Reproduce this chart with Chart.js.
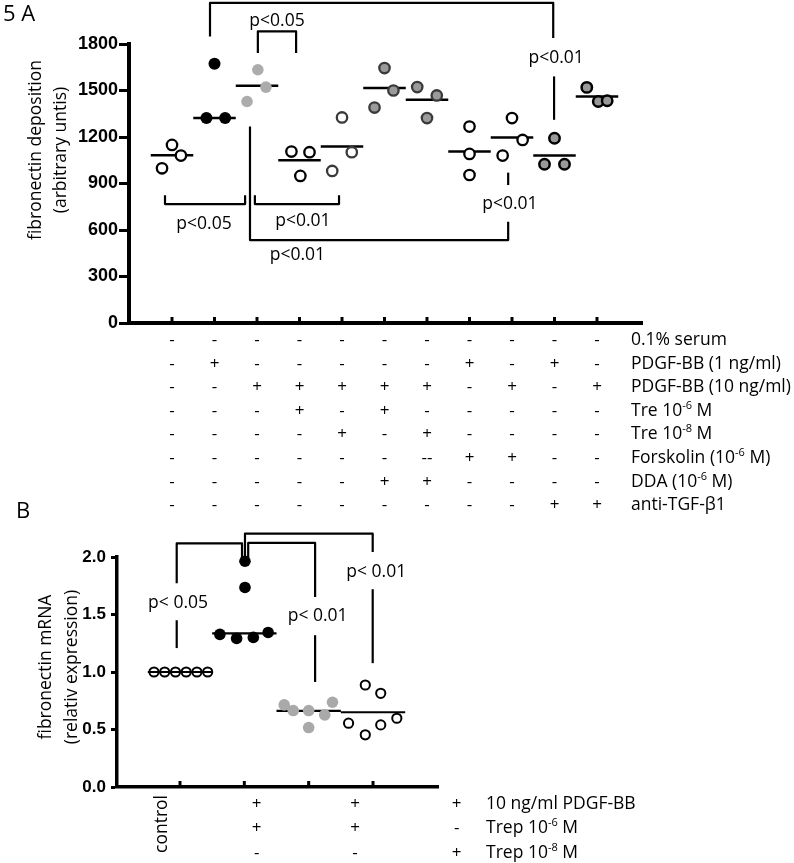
<!DOCTYPE html>
<html>
<head>
<meta charset="utf-8">
<title>Figure 5 – fibronectin</title>
<script src="https://cdn.jsdelivr.net/npm/chart.js@4.4.1/dist/chart.umd.min.js"></script>
<style>
  html, body { margin: 0; padding: 0; background: #fff; }
  #fig { position: relative; width: 794px; height: 863px; overflow: hidden; }
  canvas { position: absolute; left: 0; display: block; }
  #panelA { top: 0; }
  #panelB { top: 500px; }
</style>
</head>
<body>
<div id="fig">
  <canvas id="panelA" width="794" height="520"></canvas>
  <canvas id="panelB" width="794" height="363"></canvas>
</div>
<script>
/* ================================================================
   Fig. 5 — fibronectin deposition (A) and mRNA (B), scatter + median
   ================================================================ */

/* ── DATA: panel A ─────────────────────────────────────────────── */
const conditionsA = ['serum', 'PDGF 1', 'PDGF 10', 'PDGF 10 + Tre-6', 'PDGF 10 + Tre-8',
  'PDGF 10 + Tre-6 + DDA', 'PDGF 10 + Tre-8 + DDA', 'PDGF 1 + Fsk', 'PDGF 10 + Fsk',
  'PDGF 1 + anti-TGF', 'PDGF 10 + anti-TGF'];
const valuesA = [
  [998, 1149, 1080],
  [1673, 1322, 1322],
  [1429, 1634, 1522],
  [1106, 1102, 949],
  [981, 1102, 1326],
  [1390, 1645, 1500],
  [1522, 1468, 1322],
  [1267, 1091, 955],
  [1322, 1181, 1080],
  [1192, 1024, 1024],
  [1520, 1429, 1434]
];
// horizontal spread of the replicates inside a column (x-axis units)
const spreadA = [
  [-0.235, 0, 0.21],
  [0, -0.19, 0.25],
  [-0.235, 0.02, 0.21],
  [-0.19, 0.235, 0.02],
  [-0.23, 0.23, 0],
  [-0.235, 0, 0.21],
  [-0.23, 0.23, 0],
  [0, 0, 0],
  [0, 0.25, -0.22],
  [0, -0.235, 0.235],
  [-0.24, 0.03, 0.24]
];
const medianA = [1083, 1322, 1530, 1050, 1138, 1516, 1440, 1106, 1196, 1080, 1461];
const yTicksA = [0, 300, 600, 900, 1200, 1500, 1800];

const rowLabelsA = ['0.1% serum', 'PDGF-BB (1 ng/ml)', 'PDGF-BB (10 ng/ml)', 'Tre 10{-6} M',
  'Tre 10{-8} M', 'Forskolin (10{-6} M)', 'DDA (10{-6} M)', 'anti-TGF-β1'];
const signsA = [
  ['-', '-', '-', '-', '-', '-', '-', '-', '-', '-', '-'],
  ['-', '+', '-', '-', '-', '-', '-', '+', '-', '+', '-'],
  ['-', '-', '+', '+', '+', '+', '+', '-', '+', '-', '+'],
  ['-', '-', '-', '+', '-', '+', '-', '-', '-', '-', '-'],
  ['-', '-', '-', '-', '+', '-', '+', '-', '-', '-', '-'],
  ['-', '-', '-', '-', '-', '-', '--', '+', '+', '-', '-'],
  ['-', '-', '-', '-', '-', '+', '+', '-', '-', '-', '-'],
  ['-', '-', '-', '-', '-', '-', '-', '-', '-', '+', '+']
];

/* ── DATA: panel B ─────────────────────────────────────────────── */
const conditionsB = ['control', 'PDGF-BB + Trep 10-6', 'PDGF-BB + Trep 10-6 (2)', 'PDGF-BB + Trep 10-8'];
const valuesB = [
  [1, 1, 1, 1, 1, 1],
  [1.963, 1.735, 1.327, 1.292, 1.301, 1.344],
  [0.714, 0.665, 0.665, 0.517, 0.627, 0.737],
  [0.887, 0.815, 0.555, 0.454, 0.540, 0.598]
];
const spreadB = [
  [-0.404, -0.238, -0.07, 0.096, 0.263, 0.43],
  [0.01, 0.01, -0.38, -0.12, 0.14, 0.37],
  [-0.38, -0.24, 0, 0, 0.25, 0.37],
  [-0.12, 0.12, -0.38, -0.12, 0.12, 0.37]
];
const medianB = [1.0, 1.336, 0.662, 0.65];
const yTicksB = [0, 0.5, 1.0, 1.5, 2.0];

const rowLabelsB = ['10 ng/ml PDGF-BB', 'Trep 10{-6} M', 'Trep 10{-8} M'];
const signsB = [
  ['+', '+', '+'],
  ['+', '+', '-'],
  ['-', '-', '+']
];

/* ── ANNOTATIONS (data units) ──────────────────────────────────── */
const bracketsA = [
  [[0.894, 1849], [0.894, 2065], [8.97, 2065], [8.97, 1839]],
  [[8.99, 1591], [8.99, 1311]],
  [[2.02, 1742], [2.02, 1882], [2.92, 1882], [2.92, 1742]],
  [[-0.165, 825], [-0.165, 767], [1.72, 767], [1.72, 825]],
  [[1.95, 825], [1.95, 767], [3.93, 767], [3.93, 825]],
  [[1.835, 1267], [1.835, 535], [7.91, 535], [7.91, 653]],
  [[7.91, 970], [7.91, 890]]
];
const pLabelsA = [
  ['p<0.05', 2.47, 1915],
  ['p<0.01', 9.04, 1679],
  ['p<0.05', 0.753, 606],
  ['p<0.01', 3.08, 625],
  ['p<0.01', 2.95, 405],
  ['p<0.01', 7.95, 735]
];
const bracketsB = [
  [[-0.051, 1.45], [-0.051, 1.208]],
  [[-0.051, 1.771], [-0.051, 2.118], [0.964, 2.118], [0.964, 1.995]],
  [[1.01, 2.0], [1.01, 2.203], [2.995, 2.203], [2.995, 2.043]],
  [[2.995, 1.72], [2.995, 1.077]],
  [[1.06, 2.0], [1.06, 2.122], [2.10, 2.122], [2.10, 1.653]],
  [[2.10, 1.32], [2.10, 0.913]]
];
const pLabelsB = [
  ['p< 0.05', -0.03, 1.555],
  ['p< 0.01', 3.05, 1.824],
  ['p< 0.01', 2.14, 1.442]
];

/* ── STYLE ─────────────────────────────────────────────────────── */
const INK = '#000';
const FONT = '"Open Sans", "Liberation Sans", sans-serif';
const dotStyles = {
  open:      { bg: '#ffffff', edge: '#000000', r: 5.2, w: 2.3 },
  openGrey:  { bg: '#ffffff', edge: '#3a3a3a', r: 5.2, w: 2.3 },
  black:     { bg: '#000000', edge: '#000000', r: 6.0, w: 0 },
  light:     { bg: '#acacac', edge: '#acacac', r: 5.8, w: 0 },
  grey:      { bg: '#9a9a9a', edge: '#3a3a3a', r: 5.2, w: 2.3 },
  greyBlack: { bg: '#999999', edge: '#000000', r: 5.2, w: 2.5 },
  ring:      { bg: 'rgba(0,0,0,0)', edge: '#000000', r: 4.6, w: 2.0 },
  blackB:    { bg: '#000000', edge: '#000000', r: 5.8, w: 0 },
  lightB:    { bg: '#a9a9a9', edge: '#a9a9a9', r: 5.8, w: 0 }
};
const styleA = ['open', 'black', 'light', 'open', 'openGrey', 'grey', 'grey', 'open', 'open', 'greyBlack', 'greyBlack'];
const styleB = ['ring', 'blackB', 'lightB', 'ring'];

/* ── HELPERS ───────────────────────────────────────────────────── */
function scatterSets(values, spread, medians, styles, lineWidth) {
  const dots = values.map((vals, g) => {
    const s = dotStyles[styles[g]];
    return {
      data: vals.map((v, k) => ({ x: g + spread[g][k], y: v })),
      pointRadius: s.r, pointHoverRadius: s.r, pointBorderWidth: s.w,
      pointBackgroundColor: s.bg, pointBorderColor: s.edge,
      showLine: false, clip: false, order: 1
    };
  });
  const lines = medians.map((m, g) => ({
    data: [{ x: g - 0.5, y: m }, { x: g + 0.5, y: m }],
    showLine: true, borderColor: INK, borderWidth: lineWidth,
    pointRadius: 0, clip: false, order: 2
  }));
  return dots.concat(lines);
}

function stroke(ctx, pts) {
  ctx.beginPath();
  pts.forEach(([px, py], i) => (i ? ctx.lineTo(px, py) : ctx.moveTo(px, py)));
  ctx.stroke();
}

// text with {..} parts drawn as superscript
function richText(ctx, text, x, y, size) {
  let cx = x;
  text.split(/\{([^}]*)\}/).forEach((part, i) => {
    const sup = i % 2 === 1;
    ctx.font = `${sup ? Math.round(size * 0.62) : size}px ${FONT}`;
    ctx.fillText(part, cx, sup ? y - size * 0.4 : y);
    cx += ctx.measureText(part).width;
  });
}

function vText(ctx, text, x, y, align) {
  ctx.save();
  ctx.translate(x, y);
  ctx.rotate(-Math.PI / 2);
  ctx.textAlign = align;
  ctx.fillText(text, 0, 0);
  ctx.restore();
}

function drawMarks(ctx, x, y, area, count, brackets, labels) {
  // inward tick marks on the x axis
  ctx.lineWidth = 3;
  ctx.lineCap = 'butt';
  for (let g = 0; g < count; g++) {
    const px = x.getPixelForValue(g);
    stroke(ctx, [[px, area.bottom], [px, area.bottom - 6]]);
  }
  // significance brackets
  ctx.lineWidth = 2.2;
  ctx.lineJoin = 'round';
  brackets.forEach(b => stroke(ctx, b.map(([u, v]) => [x.getPixelForValue(u), y.getPixelForValue(v)])));
  ctx.font = `17.5px ${FONT}`;
  ctx.textAlign = 'center';
  labels.forEach(([t, u, v]) => ctx.fillText(t, x.getPixelForValue(u), y.getPixelForValue(v)));
}

/* ── PANEL A EXTRAS ────────────────────────────────────────────── */
const extrasA = {
  id: 'extrasA',
  afterDraw(chart) {
    const { ctx, chartArea: area, scales: { x, y } } = chart;
    ctx.save();
    ctx.strokeStyle = INK;
    ctx.fillStyle = INK;
    ctx.textBaseline = 'alphabetic';
    drawMarks(ctx, x, y, area, conditionsA.length, bracketsA, pLabelsA);

    // treatment table
    signsA.forEach((row, r) => {
      const base = area.bottom + 22 + r * 23.6;
      ctx.font = `17px ${FONT}`;
      ctx.textAlign = 'center';
      row.forEach((s, g) => ctx.fillText(s, x.getPixelForValue(g), base));
      ctx.textAlign = 'left';
      richText(ctx, rowLabelsA[r], area.right - 11, base, 17.5);
    });

    // axis title and panel letter
    ctx.font = `17.5px ${FONT}`;
    vText(ctx, 'fibronectin deposition', 40.5, 150, 'center');
    vText(ctx, '(arbitrary untis)', 66, 150, 'center');
    ctx.font = `22px ${FONT}`;
    ctx.textAlign = 'left';
    ctx.fillText('5 A', 3, 21);
    ctx.restore();
  }
};

/* ── PANEL B EXTRAS ────────────────────────────────────────────── */
const signColsB = [1.192, 2.72, 4.30];
const extrasB = {
  id: 'extrasB',
  afterDraw(chart) {
    const { ctx, chartArea: area, scales: { x, y } } = chart;
    ctx.save();
    ctx.strokeStyle = INK;
    ctx.fillStyle = INK;
    ctx.textBaseline = 'alphabetic';
    drawMarks(ctx, x, y, area, conditionsB.length, bracketsB, pLabelsB);

    // category labels under the axis
    ctx.font = `17.5px ${FONT}`;
    vText(ctx, conditionsB[0], x.getPixelForValue(-0.207), area.bottom + 66, 'left');
    signsB.forEach((row, r) => {
      const base = area.bottom + 22 + r * 24.4;
      ctx.font = `17px ${FONT}`;
      ctx.textAlign = 'center';
      row.forEach((s, c) => ctx.fillText(s, x.getPixelForValue(signColsB[c]), base));
      ctx.textAlign = 'left';
      richText(ctx, rowLabelsB[r], x.getPixelForValue(4.757), base, 17.5);
    });

    ctx.font = `17.5px ${FONT}`;
    vText(ctx, 'fibronectin mRNA', 50.5, 167, 'center');
    vText(ctx, '(relativ expression)', 76.5, 167, 'center');
    ctx.font = `22px ${FONT}`;
    ctx.textAlign = 'left';
    ctx.fillText('B', 16, 18);
    ctx.restore();
  }
};

/* ── CHARTS ────────────────────────────────────────────────────── */
function axisY(min, max, ticks, opts) {
  return {
    min, max,
    afterBuildTicks: s => { s.ticks = ticks.map(v => ({ value: v })); },
    ticks: {
      color: INK, padding: opts.padding,
      font: { family: 'Liberation Sans', size: opts.font, weight: 'bold' },
      callback: opts.format
    },
    grid: { drawOnChartArea: false, drawTicks: true, tickLength: opts.tick, tickWidth: 3, tickColor: INK },
    border: { display: true, width: opts.border, color: INK },
    afterFit: s => { s.width = opts.width; }
  };
}

function axisX(min, max, border) {
  return {
    type: 'linear', min, max,
    ticks: { display: false },
    grid: { display: false, drawTicks: false },
    border: { display: true, width: border, color: INK },
    afterFit: s => { s.height = 0; }
  };
}

const common = {
  responsive: false,
  animation: false,
  devicePixelRatio: 1,
  events: [],
  plugins: { legend: { display: false }, tooltip: { enabled: false } }
};

function build() {
  new Chart(document.getElementById('panelA'), {
    type: 'scatter',
    data: { datasets: scatterSets(valuesA, spreadA, medianA, styleA, 2.5) },
    options: Object.assign({}, common, {
      layout: { padding: { left: 0, top: 44, right: 152, bottom: 197 } },
      scales: {
        x: axisX(-1.012, 11.059, 4),
        y: axisY(0, 1800, yTicksA, { padding: 1, font: 18, tick: 10, border: 4, width: 129, format: v => String(v) })
      }
    }),
    plugins: [extrasA]
  });

  new Chart(document.getElementById('panelB'), {
    type: 'scatter',
    data: { datasets: scatterSets(valuesB, spreadB, medianB, styleB, 2.2) },
    options: Object.assign({}, common, {
      layout: { padding: { left: 0, top: 57, right: 356, bottom: 76 } },
      scales: {
        x: axisX(-0.979, 4.01, 3.5),
        y: axisY(0, 2, yTicksB, { padding: 5, font: 17, tick: 6, border: 3.5, width: 117, format: v => Number(v).toFixed(1) })
      }
    }),
    plugins: [extrasB]
  });
}

Promise.all([
  document.fonts.load(`17px "Open Sans"`),
  document.fonts.load(`bold 17px "Liberation Sans"`)
]).then(build, build);
</script>
</body>
</html>
